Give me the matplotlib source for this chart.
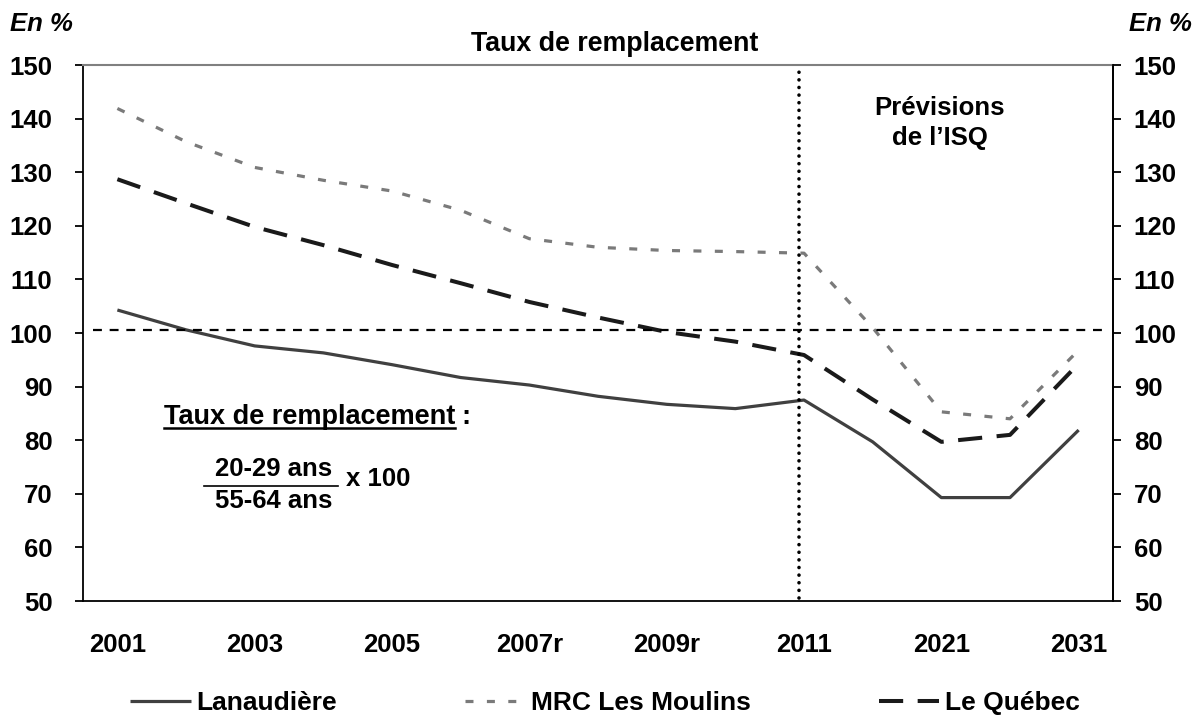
import matplotlib
matplotlib.use("Agg")
import matplotlib.pyplot as plt
from matplotlib.lines import Line2D

plt.rcParams['font.family'] = ['Liberation Sans', 'DejaVu Sans']
plt.rcParams['font.weight'] = 'bold'

# --- données ---
annees = ["2001", "2002", "2003", "2004", "2005", "2006", "2007r", "2008r",
          "2009r", "2010r", "2011", "2016", "2021", "2026", "2031"]
lanaudiere = [104.3, 100.6, 97.6, 96.3, 94.1, 91.7, 90.3, 88.2,
              86.7, 85.9, 87.5, 79.7, 69.3, 69.3, 81.9]
mrc_moulins = [141.9, 135.7, 130.9, 128.5, 126.5, 122.9, 117.6, 116.0,
               115.4, 115.2, 114.9, 101.0, 85.3, 84.0, 96.8]
quebec = [128.7, 124.2, 119.8, 116.4, 112.7, 109.3, 105.8, 102.9,
          100.2, 98.4, 95.9, 87.6, 79.7, 81.0, 94.3]
ligne_ref = 100.5
debut_prevision = 9.92

x = list(range(len(annees)))
fs = 18.5

fig = plt.figure(figsize=(12, 7.15), dpi=100)
ax = fig.add_axes([0.0692, 0.1594, 0.8583, 0.7496])

ax.plot(x, lanaudiere, color="#404040", lw=2.3, solid_capstyle="butt",
        label="Lanaudière")
ax.plot(x, mrc_moulins, color="#7a7a7a", lw=2.3, dashes=(2.5, 4.2),
        label="MRC Les Moulins")
ax.plot(x, quebec, color="#1a1a1a", lw=2.9, dashes=(6.0, 3.6),
        label="Le Québec")

# repères
ax.axhline(ligne_ref, xmin=0.01, xmax=0.99, color="black", lw=1.6,
           dashes=(4, 3.5))
ax.plot([debut_prevision, debut_prevision], [50.6, 149.5], color="black",
        lw=2.6, linestyle=(0, (0.01, 2.1)), dash_capstyle="round")

ax.set_xlim(-0.5, len(annees) - 0.5)
ax.set_ylim(50, 150)
ax.set_yticks(range(50, 151, 10))
ax.set_xticks(x[::2])
ax.set_xticklabels(annees[::2])
ax.tick_params(axis="x", length=0, pad=23, labelsize=fs)
ax.tick_params(axis="y", direction="out", length=6, width=1.3, pad=16,
               labelsize=fs)

for s in ["left", "bottom", "right"]:
    ax.spines[s].set_color("black")
    ax.spines[s].set_linewidth(1.3)
ax.spines["top"].set_color("#808080")
ax.spines["top"].set_linewidth(1.5)

ax2 = ax.twinx()
ax2.set_ylim(50, 150)
ax2.set_yticks(range(50, 151, 10))
ax2.tick_params(axis="y", direction="out", length=6, width=1.3, pad=9,
                labelsize=fs)
ax2.spines["right"].set_linewidth(1.3)
for s in ["left", "top", "bottom"]:
    ax2.spines[s].set_visible(False)

# textes
fig.text(0.008, 0.966, "En %", fontsize=fs, style="italic", va="center")
fig.text(0.993, 0.966, "En %", fontsize=fs, style="italic", va="center",
         ha="right")
fig.text(0.5125, 0.939, "Taux de remplacement", fontsize=19.3, ha="center",
         va="center")
ax.text(11.98, 139.2, "Prévisions\nde l’ISQ", fontsize=fs, ha="center",
        va="center", linespacing=1.3)

t = fig.text(0.1367, 0.4168, "Taux de remplacement", fontsize=19.5,
             va="center")
fig.canvas.draw()
bb = t.get_window_extent().transformed(fig.transFigure.inverted())
fig.add_artist(Line2D([bb.x0, bb.x1], [bb.y0 + 0.003, bb.y0 + 0.003],
                      color="black", lw=1.8, transform=fig.transFigure))
fig.text(bb.x1 + 0.005, 0.4168, ":", fontsize=19.5, va="center")

fig.text(0.2283, 0.344, "20-29 ans", fontsize=fs, ha="center", va="center")
fig.text(0.2283, 0.2993, "55-64 ans", fontsize=fs, ha="center", va="center")
fig.add_artist(Line2D([0.170, 0.2817], [0.3203, 0.3203], color="black",
                      lw=1.2, transform=fig.transFigure))
fig.text(0.2883, 0.3301, "x 100", fontsize=fs, va="center")

fig.legend(loc="center", bbox_to_anchor=(0.504, 0.017), ncol=3,
           frameon=False, fontsize=19, handlelength=2.3, handletextpad=0.2,
           columnspacing=4.85, borderpad=0)

fig.savefig("out.png", dpi=100)
